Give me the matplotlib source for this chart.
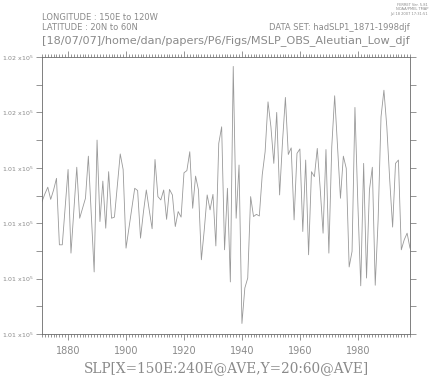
#!/usr/bin/env python3
"""
Ferret style time series of area mean SLP (Aleutian Low, DJF)
"""
import matplotlib
matplotlib.use('Agg')
import matplotlib.pyplot as plt
import numpy as np

# DJF mean sea level pressure (Pa), 1871-1998
years = np.arange(1871, 1999)
slp = [
    101339, 101353, 101365, 101343, 101360, 101381, 101261, 101261, 101329, 101397,
    101246, 101324, 101401, 101309, 101327, 101345, 101421, 101317, 101212, 101450,
    101303, 101376, 101291, 101393, 101309, 101311, 101369, 101425, 101397, 101255,
    101291, 101327, 101363, 101359, 101273, 101320, 101360, 101324, 101290, 101415,
    101348, 101342, 101360, 101307, 101361, 101351, 101294, 101321, 101311, 101391,
    101395, 101429, 101327, 101385, 101360, 101234, 101288, 101351, 101324, 101352,
    101259, 101444, 101474, 101252, 101363, 101194, 101583, 101309, 101405, 101119,
    101183, 101201, 101348, 101312, 101316, 101313, 101387, 101429, 101519, 101474,
    101408, 101500, 101351, 101447, 101527, 101424, 101436, 101306, 101426, 101434,
    101285, 101414, 101243, 101393, 101384, 101435, 101363, 101282, 101433, 101246,
    101438, 101530, 101438, 101345, 101421, 101399, 101221, 101249, 101509, 101336,
    101187, 101408, 101201, 101360, 101401, 101188, 101306, 101492, 101540, 101474,
    101378, 101293, 101408, 101414, 101252, 101270, 101282, 101255,
]

y_ticks = [101100, 101200, 101300, 101400, 101500, 101600]
y_tick_labels = ['1.01', '1.01', '1.01', '1.01', '1.02', '1.02']
x_ticks = [1880, 1900, 1920, 1940, 1960, 1980]

grey_line = '#999999'
grey_axis = '#6a6a6a'
grey_text = '#8a8a8a'

fig = plt.figure(figsize=(4.31, 3.77), dpi=100)
ax = fig.add_axes([42 / 431, 43 / 377, 368 / 431, 277 / 377])

ax.plot(years, slp, color=grey_line, lw=0.6)

ax.set_xlim(1871, 1998)
ax.set_ylim(101100, 101600)

ax.set_xticks(x_ticks)
ax.set_xticklabels([str(t) for t in x_ticks])
ax.set_xticks(np.arange(1871, 1999), minor=True)
ax.set_yticks(y_ticks)
ax.set_yticklabels([lab + r' x10$^5$' for lab in y_tick_labels])
ax.set_yticks(np.arange(101150, 101600, 100), minor=True)

ax.tick_params(axis='x', which='both', direction='out', top=True,
               colors=grey_axis, labelcolor=grey_text, labelsize=7, width=0.5)
ax.tick_params(axis='x', which='major', length=4, pad=5)
ax.tick_params(axis='x', which='minor', length=2)
ax.tick_params(axis='y', which='both', direction='out', right=True,
               length=4.5, colors=grey_axis, labelcolor=grey_text,
               labelsize=4.5, width=0.5, pad=1.5)
for spine in ax.spines.values():
    spine.set_color(grey_axis)
    spine.set_linewidth(0.6)

ax.set_xlabel('SLP[X=150E:240E@AVE,Y=20:60@AVE]', family='DejaVu Serif',
              fontsize=9.8, color=grey_text, labelpad=3)

fig.text(42 / 431, 1 - 18 / 377, 'LONGITUDE : 150E to 120W', fontsize=6.0,
         color=grey_text, va='center')
fig.text(42 / 431, 1 - 27 / 377, 'LATITUDE : 20N to 60N', fontsize=6.0,
         color=grey_text, va='center')
fig.text(410 / 431, 1 - 27 / 377, 'DATA SET: hadSLP1_1871-1998djf', fontsize=6.0,
         color=grey_text, va='center', ha='right')
fig.text(42 / 431, 1 - 41 / 377,
         '[18/07/07]/home/dan/papers/P6/Figs/MSLP_OBS_Aleutian_Low_djf',
         fontsize=8.1, color=grey_text, va='center')
fig.text(428 / 431, 1 - 3 / 377,
         'FERRET Ver. 5.81\nNOAA/PMEL TMAP\nJul 18 2007 17:31:51',
         fontsize=2.6, color=grey_text, va='top', ha='right',
         linespacing=1.1, multialignment='right')

fig.savefig('out.png', dpi=100)
